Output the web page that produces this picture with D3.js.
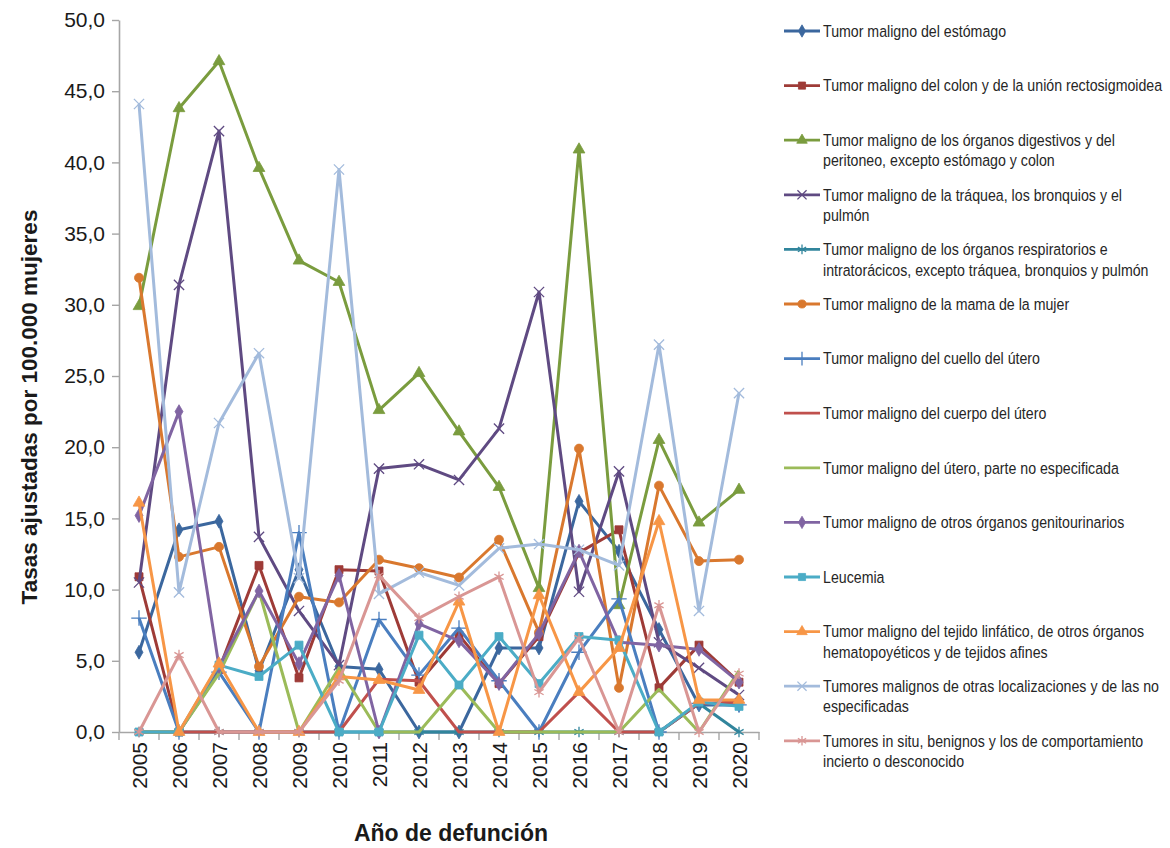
<!DOCTYPE html>
<html lang="es">
<head>
<meta charset="utf-8">
<script src="https://cdn.jsdelivr.net/npm/d3@7"></script>
<style>
  html, body { margin: 0; padding: 0; background: #ffffff; }
  svg { display: block; }
</style>
</head>
<body>
<svg id="chart" width="1170" height="848"></svg>
<script>
// Años de defunción (categorías del eje X)
const years = ["2005","2006","2007","2008","2009","2010","2011","2012","2013","2014","2015","2016","2017","2018","2019","2020"];

// Marcas del eje Y
const yTicks = [0, 5, 10, 15, 20, 25, 30, 35, 40, 45, 50];

// Tasas ajustadas por 100.000 mujeres, una serie por causa
const estomago      = [5.6, 14.2, 14.8, 4.3, 11.4, 4.6, 4.4, 0, 0, 5.9, 5.9, 16.2, 12.7, 7.2, 1.9, 1.9];
const colon         = [10.9, 0, 4.4, 11.7, 3.8, 11.4, 11.3, 3.5, 6.8, 3.4, 6.7, 12.6, 14.2, 3.1, 6.1, 3.5];
const digestivos    = [29.9, 43.8, 47.1, 39.6, 33.1, 31.6, 22.6, 25.2, 21.1, 17.2, 10.1, 40.9, 8.9, 20.5, 14.7, 17.0];
const traquea       = [10.5, 31.4, 42.2, 13.7, 8.5, 4.7, 18.5, 18.8, 17.7, 21.3, 30.9, 9.85, 18.3, 6.3, 4.5, 2.6];
const respiratorios = [0, 0, 0, 0, 0, 0, 0, 0, 0, 0, 0, 0, 0, 0, 2.0, 0];
const mama          = [31.9, 12.3, 13.0, 4.6, 9.5, 9.1, 12.1, 11.5, 10.85, 13.5, 7.0, 19.9, 3.1, 17.3, 12.0, 12.1];
const cuello        = [8.0, 0, 4.2, 0, 14.0, 0, 7.9, 4.0, 7.3, 3.6, 0, 5.6, 9.35, 0, 2.0, 1.9];
const cuerpo        = [0, 0, 0, 0, 0, 0, 3.7, 3.6, 0, 0, 0, 2.8, 0, 0, 2.0, 2.1];
const uteroNoEsp    = [0, 0, 4.1, 9.9, 0, 4.5, 0, 0, 3.3, 0, 0, 0, 0, 3.0, 0, 4.3];
const genitourin    = [15.2, 22.5, 4.6, 9.9, 4.8, 11.0, 0, 7.6, 6.4, 3.4, 6.9, 12.7, 6.3, 6.1, 5.8, 3.5];
const leucemia      = [0, 0, 4.7, 3.9, 6.1, 0, 0, 6.8, 3.3, 6.7, 3.4, 6.7, 6.45, 0, 2.1, 1.8];
const linfatico     = [16.1, 0, 4.8, 0, 0, 3.9, 3.65, 2.95, 9.15, 0, 9.6, 2.8, 5.9, 14.8, 2.25, 2.25];
const otras         = [44.1, 9.8, 21.7, 26.6, 10.8, 39.5, 9.7, 11.2, 10.3, 12.9, 13.2, 12.8, 11.7, 27.2, 8.5, 23.8];
const inSitu        = [0, 5.4, 0, 0, 0, 3.6, 11.0, 8.0, 9.5, 10.9, 2.8, 6.6, 0, 8.9, 0, 4.1];

// Nombres de las series (con los saltos de línea de la leyenda)
const seriesNames = [
  ["Tumor maligno del estómago"],
  ["Tumor maligno del colon y de la unión rectosigmoidea"],
  ["Tumor maligno de los órganos digestivos y del", "peritoneo, excepto estómago y colon"],
  ["Tumor maligno de la tráquea, los bronquios y el", "pulmón"],
  ["Tumor maligno de los órganos respiratorios e", "intratorácicos, excepto tráquea, bronquios y pulmón"],
  ["Tumor maligno de la mama de la mujer"],
  ["Tumor maligno del cuello del útero"],
  ["Tumor maligno del cuerpo del útero"],
  ["Tumor maligno del útero, parte no especificada"],
  ["Tumor maligno de otros órganos genitourinarios"],
  ["Leucemia"],
  ["Tumor maligno del tejido linfático, de otros órganos", "hematopoyéticos y de tejidos afines"],
  ["Tumores malignos de otras localizaciones y de las no", "especificadas"],
  ["Tumores in situ, benignos y los de comportamiento", "incierto o desconocido"]
];

const seriesValues = [estomago, colon, digestivos, traquea, respiratorios, mama, cuello,
                      cuerpo, uteroNoEsp, genitourin, leucemia, linfatico, otras, inSitu];

const seriesColors = ["#3b679e", "#9e3b37", "#7a9c3e", "#5f4a82", "#31859c", "#d9782e", "#4a7ebf",
                      "#c0504d", "#9bbb59", "#8064a2", "#4bacc6", "#f79646", "#a3bbdc", "#d99694"];

const seriesMarkers = ["diamond", "square", "triangle", "x", "asterisk", "circle", "plus",
                       null, null, "diamond", "square", "triangle", "x", "asterisk"];

const series = seriesNames.map((name, i) => ({
  name, values: seriesValues[i], color: seriesColors[i], marker: seriesMarkers[i]
}));

const svg = d3.select("#chart");
const plot = { left: 119, right: 759, top: 20, bottom: 732 };

const x = d3.scaleBand().domain(years).range([plot.left, plot.right]).padding(0);
const y = d3.scaleLinear().domain([0, 50]).range([plot.bottom, plot.top]);
const cx = d => x(d) + x.bandwidth() / 2;

const fmt = v => d3.format(".1f")(v).replace(".", ",");
const axisColor = "#a6a6a6";
const fontFamily = "'Liberation Sans', Arial, sans-serif";

// Eje Y
const yAxis = svg.append("g")
  .attr("transform", `translate(${plot.left},0)`)
  .call(d3.axisLeft(y).tickValues(yTicks).tickFormat(fmt).tickSize(7).tickSizeOuter(0).tickPadding(7));
yAxis.select(".domain").attr("stroke", axisColor).attr("stroke-width", 1.6);
yAxis.selectAll(".tick line").attr("stroke", axisColor).attr("stroke-width", 1.4);
yAxis.selectAll(".tick text")
  .attr("fill", "#1a1a1a")
  .style("font-family", fontFamily)
  .style("font-size", "21px");

// Eje X: etiquetas giradas en el centro de cada año y marcas entre categorías
const xAxis = svg.append("g")
  .attr("transform", `translate(0,${plot.bottom})`)
  .call(d3.axisBottom(x).tickSize(0).tickSizeOuter(0).tickPadding(0));
xAxis.select(".domain").attr("stroke", axisColor).attr("stroke-width", 1.6);
xAxis.selectAll(".tick text")
  .attr("transform", "rotate(-90)")
  .attr("x", -10)
  .attr("y", 0)
  .attr("dy", "0.36em")
  .attr("text-anchor", "end")
  .attr("fill", "#1a1a1a")
  .style("font-family", fontFamily)
  .style("font-size", "21px");

const edges = years.map(d => x(d)).concat([x.range()[1]]);
svg.append("g").selectAll("line").data(edges).join("line")
  .attr("x1", d => d).attr("x2", d => d)
  .attr("y1", plot.bottom).attr("y2", plot.bottom + 8)
  .attr("stroke", axisColor).attr("stroke-width", 1.4);

// Títulos de los ejes
svg.append("text")
  .attr("transform", `translate(29,407) rotate(-90)`)
  .attr("text-anchor", "middle")
  .attr("dy", "0.35em")
  .attr("fill", "#1a1a1a")
  .style("font-family", fontFamily)
  .style("font-weight", "bold")
  .style("font-size", "22.5px")
  .text("Tasas ajustadas por 100.000 mujeres");

svg.append("text")
  .attr("x", 451).attr("y", 841)
  .attr("text-anchor", "middle")
  .attr("fill", "#1a1a1a")
  .style("font-family", fontFamily)
  .style("font-weight", "bold")
  .style("font-size", "23px")
  .text("Año de defunción");

// Marcadores
const symbolTypes = {
  diamond: d3.symbolDiamond, square: d3.symbolSquare, triangle: d3.symbolTriangle,
  circle: d3.symbolCircle, x: d3.symbolX, asterisk: d3.symbolAsterisk, plus: d3.symbolPlus
};
const symbolSizes = { diamond: 55, square: 64, triangle: 60, circle: 64, x: 70, asterisk: 80, plus: 80 };
const strokedMarkers = new Set(["x", "asterisk", "plus"]);

function drawMarker(sel, marker, color, scale) {
  const path = d3.symbol().type(symbolTypes[marker]).size(symbolSizes[marker] * scale)();
  sel.append("path")
    .attr("d", path)
    .attr("fill", strokedMarkers.has(marker) ? "none" : color)
    .attr("stroke", color)
    .attr("stroke-width", strokedMarkers.has(marker) ? 1.3 : 0.8);
}

const line = d3.line().x((v, i) => cx(years[i])).y(v => y(v));

const plotG = svg.append("g");
series.forEach(s => {
  const g = plotG.append("g");
  g.append("path")
    .attr("d", line(s.values))
    .attr("fill", "none")
    .attr("stroke", s.color)
    .attr("stroke-width", 3)
    .attr("stroke-linejoin", "round");
  if (s.marker) {
    g.selectAll("g.pt").data(s.values).join("g")
      .attr("class", "pt")
      .attr("transform", (v, i) => `translate(${cx(years[i])},${y(v)})`)
      .each(function () { drawMarker(d3.select(this), s.marker, s.color, 1); });
  }
});

// Leyenda (texto estrechado horizontalmente)
const legend = svg.append("g");
const legendTop = 31, legendStep = 54.6, lineGap = 20.5, legendTextX = 823;
series.forEach((s, i) => {
  const yy = legendTop + i * legendStep;
  const g = legend.append("g").attr("transform", `translate(0,${yy})`);
  g.append("line")
    .attr("x1", 784).attr("x2", 820).attr("y1", 0).attr("y2", 0)
    .attr("stroke", s.color).attr("stroke-width", 2.8);
  if (s.marker) {
    const m = g.append("g").attr("transform", "translate(802,0)");
    drawMarker(m, s.marker, s.color, 0.8);
  }
  const t = g.append("text")
    .attr("transform", `translate(${legendTextX},0) scale(0.86,1)`)
    .attr("fill", "#262626")
    .style("font-family", fontFamily)
    .style("font-size", "16.5px");
  s.name.forEach((ln, k) => {
    t.append("tspan").attr("x", 0).attr("y", k * lineGap).attr("dy", "0.35em").text(ln);
  });
});
</script>
</body>
</html>
